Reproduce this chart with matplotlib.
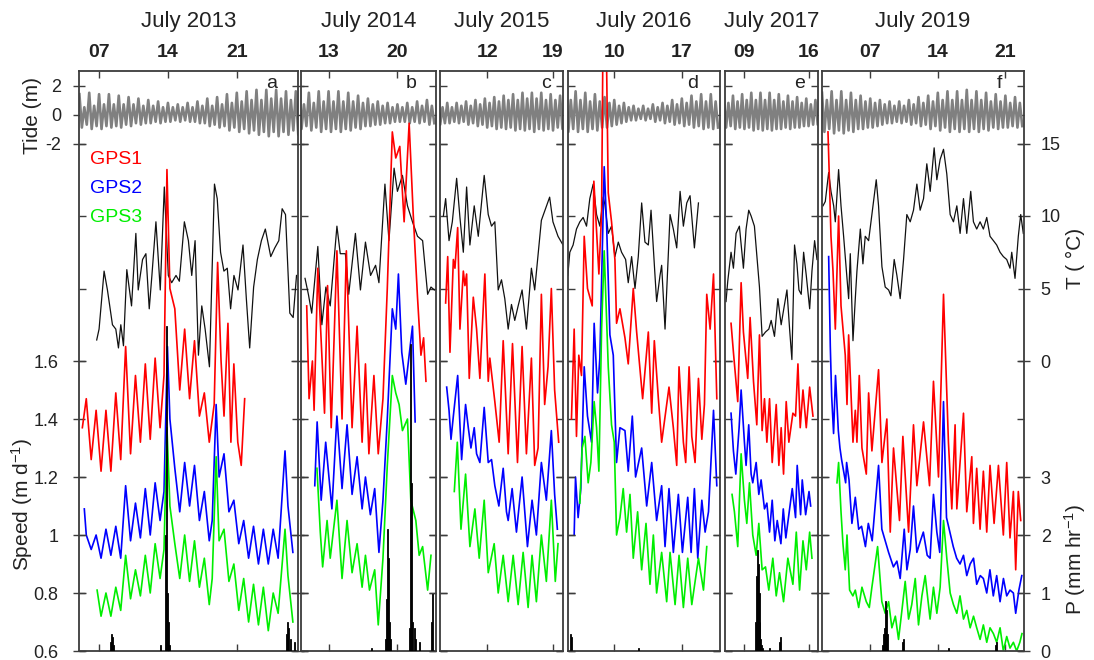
import matplotlib
matplotlib.use("Agg")
import matplotlib.pyplot as plt
import numpy as np

plt.rcParams['font.family'] = ['Liberation Sans', 'DejaVu Sans']
plt.rcParams['mathtext.default'] = 'regular'
plt.rcParams['axes.unicode_minus'] = False

# ---------------- DATA (day of July) ----------------
years = ['July 2013', 'July 2014', 'July 2015', 'July 2016', 'July 2017', 'July 2019']
letters = ['a', 'b', 'c', 'd', 'e', 'f']
xlims = [(4.96, 27.17), (10.2, 23.92), (6.98, 20.06), (5.16, 20.9), (6.88, 17.03), (2.0, 22.93)]
date_ticks = [[7, 14, 21], [13, 20], [12, 19], [10, 17], [9, 16], [7, 14, 21]]
date_labels = [['07', '14', '21'], ['13', '20'], ['12', '19'], ['10', '17'], ['09', '16'], ['07', '14', '21']]

# tide extremes, 6-hourly (high, low, high, low per day)
tide_a_start = 5.0
tide_a = [1.4,-0.9,0.5,-0.7, 1.5,-1.0,0.6,-0.8, 1.4,-1.0,0.7,-0.8, 1.4,-0.9,0.7,-0.8,
          1.3,-0.9,0.7,-0.7, 1.2,-0.8,0.7,-0.6, 1.1,-0.7,0.6,-0.6, 1.0,-0.6,0.6,-0.5,
          0.9,-0.6,0.5,-0.5, 0.8,-0.5,0.5,-0.4, 0.7,-0.5,0.5,-0.4, 0.8,-0.5,0.5,-0.5,
          0.9,-0.6,0.6,-0.6, 1.1,-0.8,0.6,-0.7, 1.2,-0.9,0.7,-0.8, 1.4,-1.1,0.8,-0.9,
          1.5,-1.2,0.9,-1.0, 1.6,-1.3,1.0,-1.1, 1.7,-1.4,1.0,-1.2, 1.7,-1.5,1.1,-1.2,
          1.7,-1.5,1.1,-1.2, 1.6,-1.4,1.0,-1.1, 1.6,-1.4,1.0,-1.1]
tide_b_start = 10.0
tide_b = [1.3,-1.0,0.7,-0.8, 1.5,-1.1,0.8,-0.9, 1.6,-1.2,0.9,-1.0, 1.6,-1.2,0.9,-1.0,
          1.6,-1.2,0.9,-1.0, 1.5,-1.1,0.9,-0.9, 1.3,-1.0,0.8,-0.8, 1.1,-0.8,0.7,-0.7,
          0.9,-0.7,0.6,-0.6, 0.8,-0.6,0.5,-0.5, 0.7,-0.5,0.5,-0.5, 0.8,-0.6,0.5,-0.5,
          0.9,-0.6,0.6,-0.5, 1.0,-0.7,0.6,-0.6]
tide_c_start = 6.75
tide_c = [0.8,-0.7,0.5,-0.6, 0.8,-0.6,0.5,-0.5, 0.8,-0.6,0.6,-0.5, 0.9,-0.7,0.6,-0.6,
          1.0,-0.8,0.7,-0.7, 1.1,-0.9,0.8,-0.8, 1.2,-1.0,0.9,-0.9, 1.3,-1.0,1.0,-0.9,
          1.4,-1.1,1.0,-1.0, 1.5,-1.1,1.1,-1.0, 1.5,-1.2,1.1,-1.0, 1.5,-1.1,1.0,-1.0,
          1.4,-1.1,1.0,-0.9, 1.3,-1.0,0.9,-0.9]
tide_d_start = 5.0
tide_d = [1.5,-1.2,1.0,-1.0, 1.6,-1.2,1.0,-1.0, 1.5,-1.2,0.9,-1.0, 1.4,-1.1,0.9,-0.9,
          1.2,-0.9,0.8,-0.8, 1.0,-0.7,0.6,-0.6, 0.8,-0.5,0.5,-0.4, 0.6,-0.4,0.4,-0.3,
          0.6,-0.4,0.4,-0.3, 0.7,-0.5,0.5,-0.4, 0.8,-0.6,0.6,-0.5, 1.0,-0.7,0.7,-0.6,
          1.1,-0.8,0.8,-0.7, 1.3,-0.9,0.9,-0.8, 1.4,-1.0,0.9,-0.9, 1.4,-1.0,0.9,-0.9]
tide_e_start = 6.75
tide_e = [1.2,-0.9,0.8,-0.8, 1.3,-1.0,0.9,-0.9, 1.4,-1.0,1.0,-0.9, 1.5,-1.1,1.0,-1.0,
          1.5,-1.1,1.0,-1.0, 1.5,-1.1,1.0,-1.0, 1.4,-1.0,0.9,-0.9, 1.3,-1.0,0.9,-0.9,
          1.2,-0.9,0.8,-0.8, 1.1,-0.8,0.7,-0.7, 1.0,-0.7,0.7,-0.6]
tide_f_start = 2.0
tide_f = [1.5,-1.2,1.0,-1.0, 1.6,-1.3,1.0,-1.1, 1.6,-1.3,1.0,-1.1, 1.5,-1.2,1.0,-1.0,
          1.3,-1.0,0.9,-0.9, 1.1,-0.9,0.8,-0.8, 1.0,-0.7,0.7,-0.6, 0.9,-0.6,0.6,-0.5,
          0.9,-0.6,0.6,-0.5, 1.0,-0.7,0.7,-0.6, 1.2,-0.8,0.8,-0.7, 1.3,-1.0,0.9,-0.8,
          1.5,-1.1,1.0,-0.9, 1.6,-1.2,1.0,-1.0, 1.6,-1.2,1.0,-1.0, 1.7,-1.2,1.0,-1.0,
          1.6,-1.2,1.0,-1.0, 1.5,-1.1,0.9,-0.9, 1.4,-1.0,0.9,-0.9, 1.3,-0.9,0.8,-0.8,
          1.2,-0.9,0.8,-0.8]

# ice speed (m/d): (day, value)
gps1_a = [(5.3,1.37),(5.7,1.47),(6.2,1.26),(6.7,1.43),(7.2,1.22),(7.7,1.43),(8.2,1.22),(8.7,1.49),(9.2,1.26),(9.7,1.65),
          (10.2,1.28),(10.7,1.55),(11.2,1.32),(11.7,1.59),(12.2,1.33),(12.7,1.61),(13.2,1.37),(13.6,1.55),(13.9,2.26),(14.2,1.85),
          (14.7,1.78),(15.2,1.50),(15.7,1.71),(16.2,1.47),(16.7,1.67),(17.2,1.41),(17.7,1.49),(18.2,1.32),(18.7,1.45),(19.05,1.94),
          (19.4,1.60),(19.7,1.41),(20.1,1.73),(20.4,1.32),(20.7,1.59),(21.1,1.32),(21.45,1.24),(21.8,1.47)]
gps2_a = [(5.5,1.09),(5.7,1.00),(6.2,0.95),(6.7,1.00),(7.2,0.92),(7.7,1.02),(8.2,0.93),(8.7,1.03),(9.2,0.92),(9.7,1.17),
          (10.2,0.98),(10.7,1.11),(11.2,0.99),(11.7,1.16),(12.2,1.00),(12.7,1.18),(13.2,1.05),(13.6,1.15),(13.95,1.65),(14.2,1.40),
          (14.7,1.23),(15.2,1.08),(15.7,1.25),(16.2,1.10),(16.7,1.24),(17.2,1.05),(17.7,1.15),(18.2,0.98),(18.5,1.05),(18.9,1.45),
          (19.2,1.20),(19.7,1.28),(20.2,1.08),(20.7,1.12),(21.2,0.97),(21.7,1.05),(22.2,0.92),(22.7,1.03),(23.2,0.90),(23.7,1.02),
          (24.2,0.90),(24.7,1.02),(25.2,0.92),(25.9,1.29),(26.2,1.10),(26.7,0.94)]
gps3_a = [(6.8,0.81),(7.2,0.72),(7.7,0.80),(8.2,0.72),(8.7,0.82),(9.2,0.74),(9.7,0.93),(10.2,0.78),(10.7,0.88),(11.2,0.79),
          (11.7,0.93),(12.2,0.80),(12.7,0.97),(13.2,0.85),(13.6,0.95),(13.9,1.37),(14.2,1.10),(14.7,0.97),(15.2,0.85),(15.7,1.00),
          (16.2,0.84),(16.7,0.98),(17.2,0.82),(17.7,0.92),(18.2,0.76),(18.5,0.85),(18.9,1.27),(19.2,0.98),(19.7,1.02),(20.2,0.84),
          (20.7,0.90),(21.2,0.74),(21.7,0.85),(22.2,0.70),(22.7,0.83),(23.2,0.69),(23.7,0.82),(24.2,0.67),(24.7,0.80),(25.2,0.73),
          (25.9,1.02),(26.2,0.86),(26.7,0.70)]

gps1_b = [(10.78,1.79),(11.02,1.47),(11.36,1.60),(11.53,1.43),(11.91,1.92),(12.59,1.42),(12.90,1.86),(13.27,1.37),(13.85,1.98),
          (14.37,1.40),(14.81,1.98),(15.39,1.37),(15.90,1.72),(16.41,1.32),(16.75,1.59),(17.10,1.28),(17.61,1.55),(18.05,1.28),
          (18.53,1.47),(18.97,1.85),(19.48,2.39),(19.83,2.30),(20.24,2.34),(20.68,2.08),(21.19,2.42),(21.60,2.11),(22.04,1.82),
          (22.39,1.62),(22.66,1.68),(22.90,1.53)]
gps2_b = [(11.60,1.17),(11.84,1.39),(12.25,1.12),(12.71,1.32),(13.34,1.09),(13.85,1.41),(14.37,1.16),(14.88,1.38),(15.39,1.14),
          (15.90,1.27),(16.41,1.09),(16.75,1.20),(17.25,1.07),(17.69,1.16),(18.12,0.94),(18.53,1.12),(18.97,1.40),(19.48,1.78),
          (19.83,1.71),(20.10,1.90),(20.44,1.63),(20.85,1.52),(21.53,1.72),(21.80,1.39)]
gps3_b = [(11.82,1.23),(12.16,1.01),(12.40,0.89),(12.85,1.05),(13.17,0.92),(13.85,1.12),(14.37,0.85),(14.88,1.05),(15.39,0.87),
          (15.90,0.97),(16.41,0.82),(16.75,0.93),(17.16,0.81),(17.69,0.88),(18.05,0.69),(18.53,0.92),(18.97,1.24),(19.48,1.55),
          (19.83,1.49),(20.17,1.45),(20.51,1.36),(21.02,1.40),(21.36,1.12),(21.87,1.05),(22.21,0.93),(22.56,0.96),(23.07,0.81),
          (23.41,0.93)]

gps1_c = [(7.58,1.80),(7.80,1.96),(8.04,1.63),(8.40,1.95),(8.57,1.92),(8.86,2.06),(9.10,1.71),(9.46,1.91),(9.63,1.86),(9.81,1.90),
          (10.09,1.54),(10.52,1.82),(10.87,1.71),(11.22,1.54),(11.75,1.90),(12.11,1.53),(12.28,1.61),(12.81,1.46),(13.27,1.32),
          (13.70,1.67),(14.23,1.28),(14.69,1.66),(15.22,1.25),(15.71,1.65),(16.17,1.28),(16.70,1.61),(17.05,1.24),(17.41,1.30),
          (17.76,1.83),(18.11,1.45),(18.47,1.58),(18.82,1.85),(19.17,1.50),(19.60,1.32)]
gps2_c = [(7.69,1.51),(7.94,1.43),(8.15,1.33),(8.40,1.41),(8.86,1.55),(9.10,1.38),(9.28,1.26),(9.70,1.45),(9.99,1.37),(10.27,1.30),
          (10.62,1.37),(10.87,1.28),(11.22,1.25),(11.68,1.44),(12.11,1.25),(12.46,1.26),(12.81,1.17),(13.24,1.10),(13.70,1.23),
          (14.05,1.08),(14.23,1.05),(14.65,1.16),(15.11,1.01),(15.71,1.20),(16.28,0.96),(16.77,1.12),(17.23,1.00),(17.76,1.25),
          (18.29,1.12),(18.82,1.36),(19.17,1.14),(19.46,1.02)]
gps3_c = [(8.50,1.15),(8.82,1.32),(9.21,1.02),(9.70,1.21),(10.16,0.96),(10.69,1.09),(11.15,0.92),(11.68,1.12),(12.11,0.87),
          (12.74,0.97),(13.17,0.80),(13.70,0.93),(14.23,0.77),(14.76,0.93),(15.29,0.76),(15.82,0.94),(16.35,0.75),(16.77,0.93),
          (17.23,0.77),(17.76,1.00),(18.29,0.84),(18.82,1.12),(19.24,0.84),(19.53,0.97)]

gps1_d = [(5.57,1.40),(5.85,1.71),(6.09,1.34),(6.33,1.62),(6.61,1.55),(6.89,2.03),(7.23,1.85),(7.72,1.79),(7.89,2.22),(8.41,1.90),
          (8.69,2.11),(8.89,2.95),(9.10,2.90),(9.38,2.18),(9.72,2.08),(10.07,1.95),(10.24,1.73),(10.59,1.78),(11.11,1.68),(11.45,1.59),
          (11.97,1.85),(12.32,1.70),(12.94,1.47),(13.53,1.70),(13.88,1.42),(14.15,1.67),(14.57,1.47),(14.91,1.32),(15.67,1.51),
          (16.12,1.37),(16.47,1.24),(16.71,1.58),(17.16,1.32),(17.40,1.25),(17.75,1.58),(18.03,1.34),(18.37,1.25),(18.72,1.54),
          (19.07,1.33),(19.34,1.45),(19.58,1.83),(19.93,1.71),(20.28,1.90),(20.62,1.47)]
gps2_d = [(5.85,1.00),(5.99,1.20),(6.26,1.06),(6.54,1.16),(6.89,1.58),(7.23,1.41),(7.65,1.32),(7.92,1.73),(8.27,1.49),(8.51,1.61),
          (8.96,2.27),(9.20,2.08),(9.55,1.69),(9.90,1.62),(10.24,1.25),(10.59,1.37),(11.11,1.36),(11.45,1.22),(11.87,1.41),(12.21,1.20),
          (12.84,1.30),(13.36,1.10),(13.88,1.25),(14.39,1.05),(14.91,1.17),(15.26,0.96),(15.67,1.16),(16.12,0.94),(16.64,1.14),
          (17.06,0.94),(17.61,1.13),(17.96,0.94),(18.30,1.16),(18.65,0.92),(19.07,1.12),(19.41,1.01),(19.76,1.08),(20.28,1.43),
          (20.62,1.17)]
gps3_d = [(6.44,1.11),(6.68,1.30),(6.96,1.34),(7.30,1.18),(7.58,1.25),(7.92,1.46),(8.17,1.37),(8.41,1.22),(8.69,1.71),(8.96,1.98),
          (9.38,1.58),(9.72,1.38),(10.0,1.32),(10.24,1.00),(10.59,1.06),(10.93,1.16),(11.28,1.01),(11.63,1.14),(11.97,0.92),
          (12.42,1.08),(12.84,0.88),(13.29,1.04),(13.70,0.83),(14.05,1.00),(14.39,0.80),(14.91,0.94),(15.43,0.77),(15.78,0.94),
          (16.30,0.76),(16.71,0.93),(17.16,0.75),(17.61,0.92),(18.03,0.76),(18.72,0.92),(19.24,0.81),(19.58,0.96)]

gps1_e = [(7.54,1.73),(7.80,1.63),(8.27,1.46),(8.64,1.87),(8.89,1.70),(9.36,1.54),(9.62,1.75),(9.99,1.53),(10.35,1.38),(10.64,1.69),
          (10.93,1.36),(11.19,1.47),(11.45,1.32),(11.74,1.47),(12.03,1.25),(12.47,1.45),(12.76,1.24),(13.01,1.37),(13.27,1.21),
          (13.56,1.46),(13.85,1.32),(14.29,1.42),(14.58,1.41),(14.84,1.59),(15.09,1.37),(15.39,1.50),(15.75,1.37),(16.12,1.51),
          (16.48,1.41)]
gps2_e = [(7.54,1.42),(7.80,1.29),(8.06,1.21),(8.42,1.37),(8.64,1.50),(9.0,1.32),(9.18,1.24),(9.47,1.38),(9.73,1.21),(9.91,1.18),
          (10.28,1.25),(10.57,1.14),(10.82,1.19),(11.19,1.09),(11.45,1.11),(11.74,1.01),(12.03,1.12),(12.32,0.98),(12.58,1.05),
          (12.98,0.97),(13.24,1.09),(13.52,0.99),(14.22,1.16),(14.58,1.06),(14.76,1.24),(15.13,1.07),(15.31,1.19),(15.68,1.07),
          (16.05,1.15),(16.23,1.10)]
gps3_e = [(7.65,1.14),(7.91,1.08),(8.27,0.96),(8.64,1.28),(9.0,1.12),(9.26,1.04),(9.55,1.18),(9.91,1.00),(10.28,0.93),(10.57,1.04),
          (10.93,0.88),(11.30,0.89),(11.66,0.81),(12.10,0.92),(12.47,0.79),(12.83,0.87),(13.27,0.77),(13.74,0.92),(14.29,0.83),
          (14.66,1.01),(15.02,0.81),(15.39,0.98),(15.75,0.88),(16.12,1.01),(16.37,0.92)]

gps1_f = [(2.62,2.39),(2.79,2.20),(2.93,2.03),(3.14,1.91),(3.38,1.71),(3.72,2.10),(3.97,1.79),(4.41,1.62),(4.59,1.45),(4.76,1.69),
          (5.21,1.32),(5.45,1.43),(5.62,1.32),(5.86,1.55),(6.14,1.30),(6.59,1.21),(6.83,1.49),(7.17,1.29),(7.86,1.57),(8.21,1.25),
          (8.72,1.40),(9.07,1.01),(9.41,1.30),(10.03,1.05),(10.38,1.34),(10.97,1.01),(11.48,1.38),(11.83,1.17),(12.52,1.39),
          (13.14,1.17),(13.55,1.53),(14.07,1.20),(14.59,1.83),(15.10,1.32),(15.45,1.09),(15.79,1.38),(15.97,1.09),(16.66,1.42),
          (17.0,1.08),(17.52,1.27),(17.69,1.04),(18.03,1.23),(18.38,1.02),(18.72,1.22),(19.07,1.01),(19.41,1.24),(19.83,1.04),
          (20.28,1.24),(20.79,1.00),(21.14,1.25),(21.48,0.99),(21.83,1.15),(22.07,0.88),(22.34,1.15),(22.59,1.05)]
gps2_f = [(2.69,1.96),(2.86,1.65),(3.0,1.48),(3.2,1.35),(3.4,1.55),(3.69,1.36),(3.86,1.30),(4.03,1.26),(4.45,1.18),(4.55,1.25),
          (4.8,1.19),(5.1,1.04),(5.45,1.13),(5.8,1.02),(6.1,1.03),(6.5,0.96),(6.8,1.04),(7.2,0.98),(7.86,1.24),(8.2,1.02),
          (8.55,0.98),(8.9,0.94),(9.4,0.89),(9.76,0.91),(10.1,0.85),(10.52,1.02),(10.8,0.88),(11.14,0.95),(11.48,1.10),(11.83,0.94),
          (12.2,0.98),(12.5,1.01),(12.9,0.93),(13.2,0.92),(13.55,1.14),(13.9,1.01),(14.2,0.94),(14.59,1.46),(14.9,1.06),(15.25,1.01),
          (15.6,0.96),(15.95,0.92),(16.3,0.90),(16.66,0.93),(17.0,0.86),(17.35,0.90),(17.7,0.92),(18.03,0.83),(18.4,0.86),(18.72,0.85),
          (19.07,0.80),(19.4,0.88),(19.75,0.79),(20.1,0.86),(20.45,0.77),(20.8,0.85),(21.14,0.79),(21.48,0.81),(21.83,0.80),(22.07,0.73),
          (22.4,0.81),(22.7,0.86)]
gps3_f = [(3.55,1.18),(3.72,1.25),(3.97,1.08),(4.17,0.97),(4.41,0.88),(4.59,1.00),(4.86,0.81),(5.2,0.79),(5.45,0.81),(5.8,0.75),
          (6.14,0.82),(6.59,0.77),(6.9,0.75),(7.17,0.82),(7.76,0.96),(8.2,0.77),(8.55,0.73),(8.9,0.77),(9.24,0.68),(9.6,0.72),
          (9.93,0.64),(10.28,0.74),(10.62,0.84),(10.97,0.71),(11.3,0.76),(11.66,0.85),(12.0,0.69),(12.35,0.79),(12.69,0.86),(13.2,0.71),
          (13.55,0.82),(13.9,0.73),(14.24,0.82),(14.59,1.05),(14.93,0.92),(15.28,0.80),(15.62,0.76),(15.97,0.73),(16.3,0.79),(16.66,0.71),
          (17.0,0.74),(17.35,0.68),(17.7,0.72),(18.03,0.68),(18.38,0.64),(18.72,0.69),(19.07,0.63),(19.41,0.68),(19.76,0.66),(20.1,0.63),
          (20.45,0.68),(20.79,0.60),(21.14,0.65),(21.48,0.61),(21.83,0.63),(22.17,0.60),(22.5,0.63),(22.72,0.66)]

# air temperature (deg C): (day, value)
temp_a = [(6.76,1.45),(7.0,2.2),(7.51,6.2),(7.85,4.9),(8.36,2.5),(8.70,2.2),(8.97,0.9),(9.21,2.5),(9.48,1.05),(9.82,6.3),
          (10.30,3.8),(10.74,8.8),(10.98,4.9),(11.42,7.0),(11.76,7.4),(12.10,3.6),(12.37,5.9),(12.78,9.6),(13.22,4.9),(13.63,12.0),
          (14.04,5.9),(14.38,5.4),(14.82,5.9),(15.16,5.5),(15.67,9.6),(16.08,8.3),(16.42,5.9),(16.76,8.3),(17.10,0.4),(17.44,3.8),
          (17.78,2.2),(18.22,-0.4),(18.73,12.2),(19.01,11.2),(19.35,7.5),(19.69,6.2),(20.03,6.4),(20.37,3.6),(20.71,5.9),(21.12,4.9),
          (21.63,8.0),(21.97,4.3),(22.31,0.9),(22.71,5.1),(23.09,7.0),(23.50,8.3),(23.90,9.1),(24.45,7.2),(24.86,7.8),(25.27,8.3),
          (25.61,10.5),(25.95,10.1),(26.39,3.3),(26.73,3.0),(27.07,5.9)]
temp_b = [(10.61,5.7),(10.95,4.6),(11.29,3.3),(11.91,7.9),(12.32,2.5),(12.73,5.1),(13.17,3.8),(13.85,9.3),(14.19,7.4),(14.71,7.4),
          (15.05,4.6),(15.73,8.8),(16.24,4.9),(16.75,8.2),(17.27,5.9),(17.78,6.6),(18.12,5.4),(18.73,12.2),(19.14,8.3),(19.66,13.3),
          (20.0,11.7),(20.51,12.8),(21.02,10.7),(21.53,9.6),(22.04,8.6),(22.56,8.3),(23.07,4.6),(23.41,5.1),(23.75,4.9)]
temp_c = [(7.34,10.0),(7.58,11.2),(7.94,8.3),(8.29,9.6),(8.75,12.6),(9.10,9.9),(9.46,7.5),(9.81,12.0),(10.16,8.0),(10.62,10.7),
          (11.05,8.6),(11.68,12.8),(12.11,10.1),(12.46,9.3),(12.81,9.6),(13.17,4.9),(13.52,5.6),(13.87,4.3),(14.23,2.2),(14.58,3.9),
          (14.93,2.8),(15.29,3.8),(15.71,4.9),(16.17,2.2),(16.70,6.4),(17.05,4.9),(17.76,9.7),(18.64,11.3),(18.99,9.6),(19.53,8.6),
          (20.06,8.0)]
temp_d = [(5.19,5.9),(5.40,7.5),(5.74,8.0),(6.09,9.1),(6.44,9.6),(6.78,9.9),(7.13,9.3),(7.47,11.2),(7.82,12.2),(8.17,10.1),
          (8.51,9.3),(8.86,11.3),(9.03,10.8),(9.38,8.8),(9.72,9.3),(10.07,7.2),(10.42,8.2),(10.76,7.5),(11.18,7.0),(11.45,5.4),
          (11.80,7.2),(12.15,5.0),(12.49,7.2),(12.84,10.9),(13.18,8.2),(13.53,8.0),(13.81,10.4),(14.22,5.9),(14.39,4.1),(14.74,5.9),
          (14.91,6.6),(15.26,2.2),(15.78,10.1),(16.12,9.1),(16.47,7.8),(16.82,11.7),(17.16,9.3),(17.51,10.9),(17.85,11.4),(18.30,7.8),
          (18.72,10.9)]
temp_e = [(6.99,4.1),(7.18,5.5),(7.54,7.5),(7.80,6.4),(8.09,8.8),(8.45,9.3),(8.89,6.4),(9.18,9.1),(9.47,10.4),(9.73,10.0),
          (10.09,9.3),(10.39,7.0),(10.64,5.1),(10.93,1.7),(11.30,2.0),(11.66,2.2),(11.92,2.8),(12.28,1.7),(12.65,4.3),(13.01,2.5),
          (13.27,3.5),(13.64,4.9),(13.93,2.2),(14.18,0.1),(14.47,8.0),(14.73,6.7),(14.95,4.9),(15.20,4.6),(15.46,7.5),(15.75,5.9),
          (16.12,3.6),(16.37,6.2),(16.66,8.3),(16.92,7.0)]
temp_f = [(2.10,10.7),(2.34,11.0),(2.69,13.0),(2.93,11.7),(3.21,10.7),(3.38,9.6),(3.72,13.2),(3.97,10.7),(4.24,8.6),(4.59,5.7),
          (4.76,4.3),(4.93,7.4),(5.21,1.4),(5.45,4.3),(5.62,6.2),(5.97,9.1),(6.24,6.7),(6.48,8.6),(6.83,8.3),(7.17,10.1),
          (7.62,12.5),(7.86,10.7),(8.21,6.5),(8.55,5.1),(8.90,4.9),(9.14,4.5),(9.48,7.0),(9.76,5.9),(10.10,4.3),(10.45,7.0),
          (10.79,10.1),(11.14,9.6),(11.48,10.4),(11.83,12.2),(12.17,10.4),(12.52,11.2),(12.86,13.6),(13.21,11.7),(13.62,14.7),(13.90,12.5),
          (14.24,13.9),(14.59,14.6),(14.93,12.9),(15.28,10.1),(15.62,9.6),(15.97,10.7),(16.31,8.8),(16.66,11.2),(17.0,8.8),(17.41,11.7),
          (17.69,9.6),(18.03,9.1),(18.38,9.6),(18.72,9.1),(19.07,9.9),(19.41,8.6),(19.76,8.3),(20.10,8.0),(20.45,7.5),(20.79,7.2),
          (21.14,7.0),(21.48,6.4),(21.66,7.5),(22.0,5.7),(22.34,8.6),(22.59,10.1),(22.86,8.8)]

# precipitation (mm/hr): (day, value)
rain_a = [(8.2,0.15),(8.3,0.3),(8.4,0.25),(8.5,0.1),(13.2,0.1),(13.8,2.0),(13.9,5.6),(14.0,1.0),(14.1,0.5),
          (14.2,0.1),(26.1,0.3),(26.2,0.5),(26.3,0.4),(26.5,0.2),(26.9,0.15)]
rain_b = [(17.4,0.05),(18.8,0.2),(18.9,0.9),(19.0,2.1),(19.1,1.6),(19.2,0.5),(19.3,0.2),(21.2,0.4),(21.3,5.3),(21.4,2.9),
          (21.5,0.5),(21.7,0.4),(21.8,0.2),(22.2,0.15),(23.5,0.5),(23.6,1.0)]
rain_c = []
rain_d = [(5.5,0.3),(5.6,0.25),(12.5,0.05)]
rain_e = [(10.2,0.5),(10.3,1.3),(10.4,1.75),(10.5,1.5),(10.6,1.0),(10.7,0.5),(10.8,0.2),(10.9,0.1),(11.0,0.05),(11.7,0.05),
          (12.8,0.15),(12.9,0.25)]
rain_f = [(8.3,0.1),(8.4,0.3),(8.5,0.4),(8.6,0.86),(8.7,0.7),(8.8,0.3),(10.3,0.15),(10.4,0.2),
          (15.1,0.05),(20.0,0.1),(20.1,0.15)]

tides = [(tide_a_start, tide_a), (tide_b_start, tide_b), (tide_c_start, tide_c),
         (tide_d_start, tide_d), (tide_e_start, tide_e), (tide_f_start, tide_f)]
gps1 = [gps1_a, gps1_b, gps1_c, gps1_d, gps1_e, gps1_f]
gps2 = [gps2_a, gps2_b, gps2_c, gps2_d, gps2_e, gps2_f]
gps3 = [gps3_a, gps3_b, gps3_c, gps3_d, gps3_e, gps3_f]
temps = [temp_a, temp_b, temp_c, temp_d, temp_e, temp_f]
rains = [rain_a, rain_b, rain_c, rain_d, rain_e, rain_f]

# ---------------- LAYOUT (pixels) ----------------
W, H = 1094, 660
TOP, BOT = 71, 651
panel_px = [(79, 297.5), (301, 436), (440, 563), (567.5, 719.5), (725, 818), (822, 1024)]
letter_px = [272, 411, 546, 693, 800, 999]
TXT = '#222222'
SPINE = '#3c3c3c'

fig = plt.figure(figsize=(W / 100, H / 100), dpi=100)

def xy(pairs):
    a = np.array(pairs, dtype=float)
    return a[:, 0], a[:, 1]

for i in range(6):
    l, r = panel_px[i]
    ax = fig.add_axes([l / W, 1 - BOT / H, (r - l) / W, (BOT - TOP) / H])
    axTd = ax.twinx()
    axT = ax.twinx()
    axP = ax.twinx()
    axTd.set_zorder(1); axT.set_zorder(2); ax.set_zorder(3); axP.set_zorder(4)
    for a in (ax, axTd, axT, axP):
        a.patch.set_visible(False)
        for s in a.spines.values():
            s.set_visible(a is ax)
            s.set_color(SPINE)
            s.set_linewidth(1.3)
    ax.set_xlim(*xlims[i])
    ax.set_ylim(0.6, 2.6)
    axT.set_ylim(-20, 20)
    axP.set_ylim(0, 10)
    axTd.set_ylim(-37, 3)

    # tide
    t0, tv = tides[i]
    tt = t0 + 0.25 * np.arange(len(tv))
    axTd.plot(tt, tv, color='#808080', lw=1.9, solid_joinstyle='round')
    # temperature
    x, y = xy(temps[i])
    axT.plot(x, y, color='#111111', lw=0.9)
    # speeds
    for data, c in ((gps1[i], '#ff0000'), (gps2[i], '#0000ff'), (gps3[i], '#00ee00')):
        x, y = xy(data)
        ax.plot(x, y, color=c, lw=1.2)
    # rain
    if rains[i]:
        x, y = xy(rains[i])
        axP.bar(x, y, width=0.1, color='black', edgecolor='black', linewidth=0.6)

    # x ticks (dates) on top
    ax.set_xticks(date_ticks[i])
    ax.set_xticklabels(date_labels[i], fontweight='bold', fontsize=14, color=TXT)
    ax.tick_params(axis='x', direction='in', top=True, bottom=True, labeltop=True,
                   labelbottom=False, length=5, width=1, color=SPINE, pad=7)
    for a in (axTd, axT, axP):
        a.tick_params(axis='x', which='both', top=False, bottom=False,
                      labeltop=False, labelbottom=False)

    # y ticks
    ax.set_yticks([0.6, 0.8, 1.0, 1.2, 1.4, 1.6])
    ax.set_yticklabels(['0.6', '0.8', '1', '1.2', '1.4', '1.6'])
    axT.set_yticks([0, 5, 10, 15])
    axP.set_yticks([0, 1, 2, 3])
    axTd.set_yticks([-2, 0, 2])
    for a in (ax, axTd, axT, axP):
        a.yaxis.set_ticks_position('both')
        a.tick_params(axis='y', direction='in', length=5, width=1, color=SPINE,
                      labelleft=False, labelright=False, labelsize=13, labelcolor=TXT, pad=5)
    if i == 0:
        ax.tick_params(axis='y', labelleft=True, direction='inout', length=8, pad=11)
        axTd.tick_params(axis='y', labelleft=True, direction='inout', length=8, pad=9)
    if i == 5:
        axT.tick_params(axis='y', labelright=True, direction='inout', length=8, pad=8)
        axP.tick_params(axis='y', labelright=True, direction='inout', length=8, pad=8)

    # panel letter and year
    ax.text((letter_px[i] - l) / (r - l), (BOT - 83) / (BOT - TOP), letters[i],
            transform=ax.transAxes, ha='center', va='center', fontsize=14, color=TXT)
    fig.text((l + r) / 2 / W, 1 - 22 / H, years[i], ha='center', va='center',
             fontsize=16, color=TXT)

# legend
for name, c, ypx in (('GPS1', '#ff0000', 159), ('GPS2', '#0000ff', 188), ('GPS3', '#00ee00', 217)):
    fig.text(90 / W, 1 - ypx / H, name, color=c, fontsize=14, ha='left', va='center')

# axis labels
fig.text(33 / W, 1 - 115 / H, 'Tide (m)', rotation=90, ha='center', va='center', fontsize=15, color=TXT)
fig.text(22 / W, 1 - 505 / H, 'Speed (m d$^{-1}$)', rotation=90, ha='center', va='center', fontsize=15, color=TXT)
fig.text(1075 / W, 1 - 258 / H, 'T ( \u00b0C)', rotation=90, ha='center', va='center', fontsize=15, color=TXT)
fig.text(1075 / W, 1 - 560 / H, 'P (mm hr$^{-1}$)', rotation=90, ha='center', va='center', fontsize=15, color=TXT)

fig.savefig('out.png', dpi=100)
